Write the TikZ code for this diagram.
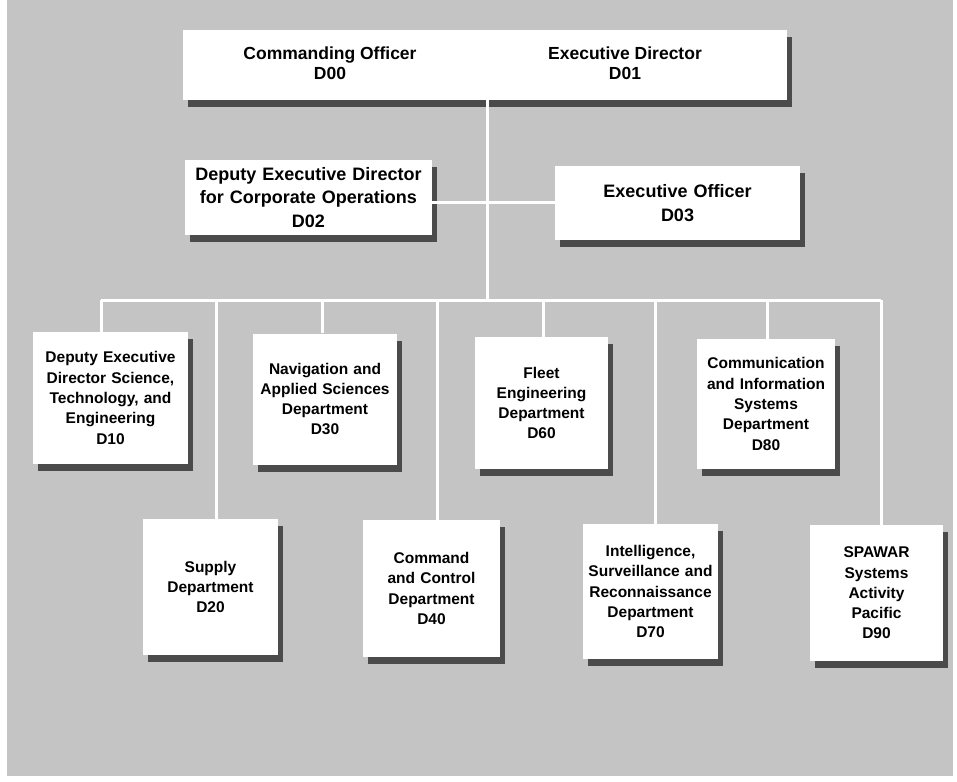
\documentclass[tikz,border=0pt]{standalone}
\usepackage{fontspec}
\setmainfont{Liberation Sans}
\usetikzlibrary{shadows}
\definecolor{bggray}{RGB}{196,196,196}
\definecolor{shadowgray}{RGB}{75,75,75}
\newcommand\deptfont{\fontsize{15.5}{20.3}\selectfont\bfseries}
\newcommand\midfont{\fontsize{18}{23.5}\selectfont\bfseries}
\newcommand\topfont{\fontsize{17.5}{20}\selectfont\bfseries}
\tikzset{
  box/.style 2 args={draw=none, fill=white, inner sep=0pt, align=center,
    minimum width=#1, minimum height=#2, text width=#1,
    drop shadow={shadow xshift=5pt, shadow yshift=-7pt, fill=shadowgray, opacity=1}},
  dept/.style 2 args={box={#1}{#2}, font=\deptfont},
  mid/.style 2 args={box={#1}{#2}, font=\midfont},
  toptext/.style={inner sep=0pt, align=center, font=\topfont},
  conn/.style={draw=white, line width=3pt},
}
\begin{document}
\begin{tikzpicture}[x=1pt,y=-1pt]
\useasboundingbox (0,0) rectangle (957,781);
\fill[white] (0,0) rectangle (957,781);
\fill[bggray] (7,0) rectangle (953,776);

% top box
\node[box={604pt}{70pt}] (top) at (485,65) {};
\node[toptext] (co) at (330,63) {Commanding Officer\\D00};
\node[toptext] (ed) at (625,63) {Executive Director\\D01};

% second level
\node[mid={247pt}{75pt}] (d02) at (308.5,197.5) {Deputy Executive Director\\for Corporate Operations\\D02};
\node[mid={245pt}{74pt}] (d03) at (677.5,203) {Executive Officer\\D03};

% departments upper row
\node[dept={155pt}{132pt}] (d10) at (110.5,398) {Deputy Executive\\Director Science,\\Technology, and\\Engineering\\D10};
\node[dept={144pt}{131pt}] (d30) at (325,399) {Navigation and\\Applied Sciences\\Department\\D30};
\node[dept={133pt}{132pt}] (d60) at (541.5,403) {Fleet\\Engineering\\Department\\D60};
\node[dept={138pt}{130pt}] (d80) at (766,404) {Communication\\and Information\\Systems\\Department\\D80};

% departments lower row
\node[dept={135pt}{136pt}] (d20) at (210.5,587) {Supply\\Department\\D20};
\node[dept={137pt}{137pt}] (d40) at (431.5,588.5) {Command\\and Control\\Department\\D40};
\node[dept={135pt}{135pt}] (d70) at (650.5,591.5) {Intelligence,\\Surveillance and\\Reconnaissance\\Department\\D70};
\node[dept={133pt}{136pt}] (d90) at (876.5,593) {SPAWAR\\Systems\\Activity\\Pacific\\D90};

% connector coordinates
\coordinate (tk) at (487,300);
\coordinate (jn) at (487,202);
\coordinate (b10) at (101,300);
\coordinate (b20) at (216,300);
\coordinate (b30) at (322,300);
\coordinate (b40) at (437,300);
\coordinate (b60) at (543,300);
\coordinate (b70) at (655,300);
\coordinate (b80) at (767,300);
\coordinate (b90) at (881,300);

% connectors
\draw[conn] (tk |- top.south) -- (tk);
\draw[conn] (d02.east |- jn) -- (jn) -- (d03.west |- jn);
\draw[conn] (b10) -- (b90);
\draw[conn] (b10) -- (b10 |- d10.north);
\draw[conn] (b20) -- (b20 |- d20.north);
\draw[conn] (b30) -- (b30 |- d30.north);
\draw[conn] (b40) -- (b40 |- d40.north);
\draw[conn] (b60) -- (b60 |- d60.north);
\draw[conn] (b70) -- (b70 |- d70.north);
\draw[conn] (b80) -- (b80 |- d80.north);
\draw[conn] (b90) -- (b90 |- d90.north);
\end{tikzpicture}
\end{document}
